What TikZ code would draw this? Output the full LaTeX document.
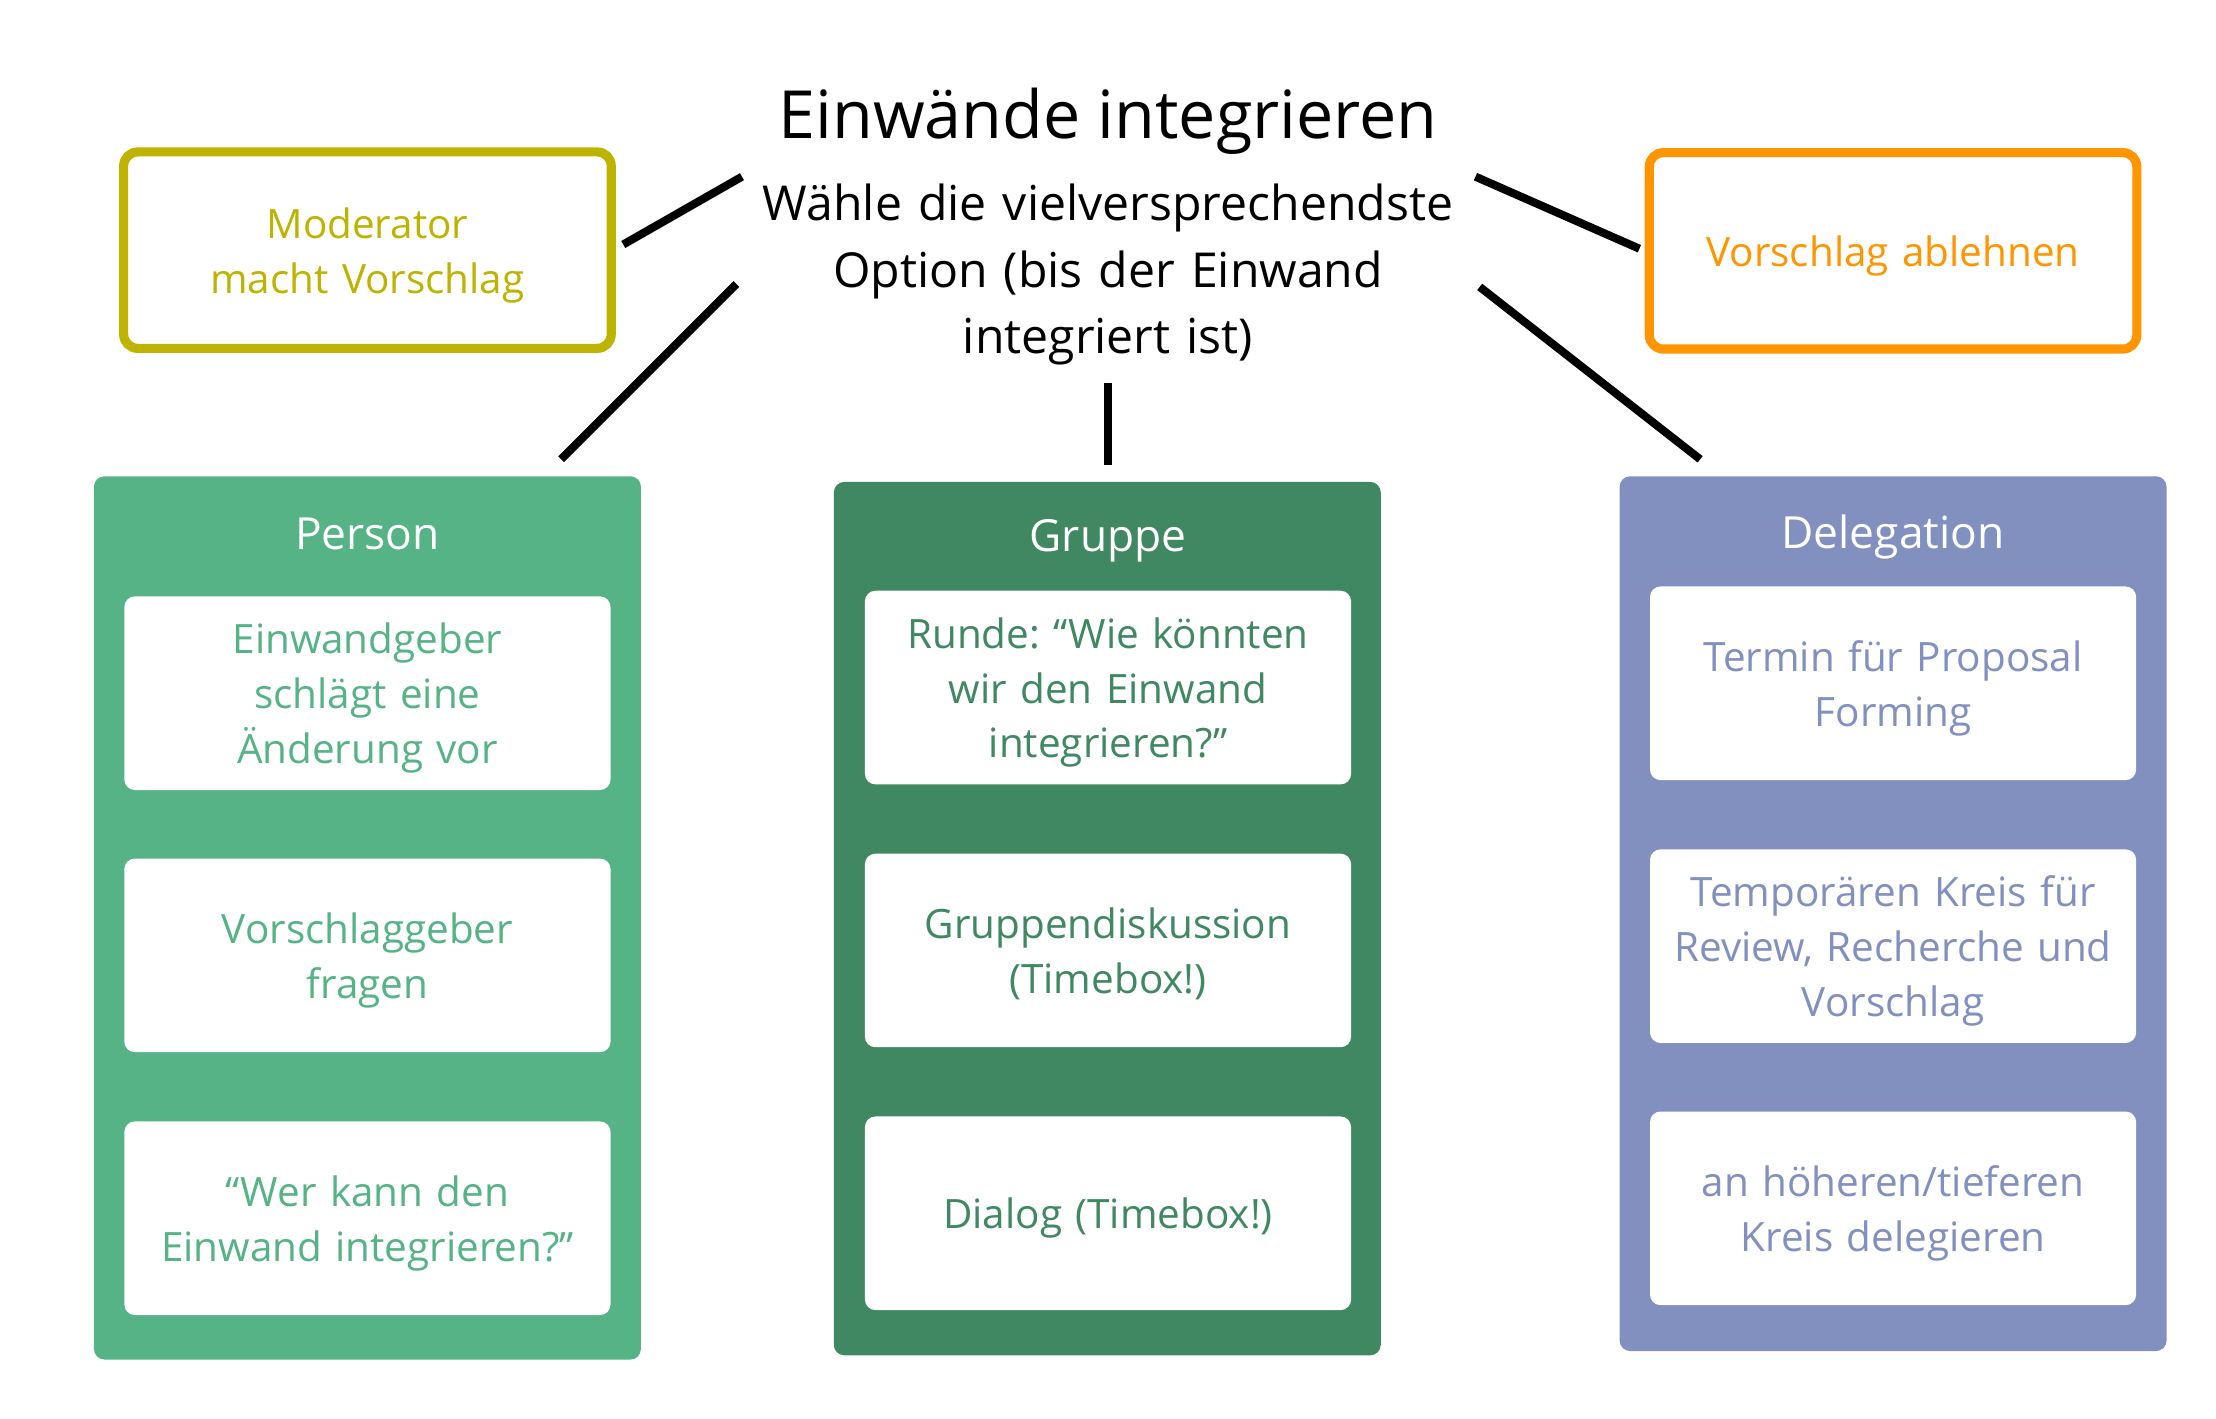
\documentclass[tikz,border=0pt]{standalone}
\usepackage{fontspec}
\setmainfont{Open Sans}
\frenchspacing
\newcommand\pxu{0.014133cm}
\newcommand\linestrut{\rule[-0.29em]{0pt}{1.35em}}
\definecolor{modcol}{HTML}{BDB300}
\definecolor{rejcol}{HTML}{FF9500}
\definecolor{personcol}{HTML}{56B386}
\definecolor{groupcol}{HTML}{3F8862}
\definecolor{delcol}{HTML}{8290C0}
\tikzset{
    boxtext/.style={execute at begin node=\linestrut,
        execute at end node=\linestrut},
    link/.style={line width=2.3pt},
    framebox/.style={boxtext, draw, line width=2.6pt, rounded corners=4pt,
        fill=white, minimum width=345*\pxu, minimum height=139*\pxu,
        inner sep=0pt, text width=320*\pxu, align=center,
        font=\fontsize{11.5}{15.6}\selectfont},
    panel/.style={rounded corners=3pt, minimum width=387*\pxu,
        minimum height=620*\pxu, inner sep=0pt},
    heading/.style={boxtext, text=white, font=\fontsize{12.6}{15}\selectfont},
    item/.style={boxtext, fill=white, rounded corners=3pt,
        minimum width=344*\pxu, minimum height=137*\pxu, inner sep=0pt,
        text width=330*\pxu, align=center,
        font=\fontsize{11.5}{15.6}\selectfont},
}
\begin{document}
\begin{tikzpicture}[x=\pxu, y=-\pxu]
    \useasboundingbox (0,0) rectangle (1568,1004);

    \node [boxtext, inner sep=0pt, font=\fontsize{18.9}{24}\selectfont] (title) at (784,80)%
        {Einwände integrieren};
    \node [boxtext, inner sep=0pt, text width=540*\pxu, align=center,
        font=\fontsize{13.7}{18.8}\selectfont] (sub) at (784,190)%
        {Wähle die vielversprechendste\\Option (bis der Einwand\\integriert ist)};

    \node [framebox, draw=modcol, text=modcol] (mod) at (260,177)%
        {Moderator\\macht Vorschlag};
    \node [framebox, draw=rejcol, text=rejcol] (rej) at (1339.5,177.5)%
        {Vorschlag ablehnen};

    \node [panel, fill=personcol, minimum height=625*\pxu] (person) at (260,649.5) {};
    \node [panel, fill=groupcol, minimum height=618*\pxu] (group) at (783.5,650) {};
    \node [panel, fill=delcol, minimum height=619*\pxu] (deleg) at (1339.5,646.5) {};

    \node [heading] (personhead) at (260,377) {Person};
    \node [heading] (grouphead) at (784,378) {Gruppe};
    \node [heading] (deleghead) at (1339.5,376) {Delegation};

    \node [item, text=personcol] (person1) at (260,490.5)%
        {Einwandgeber\\schlägt eine\\Änderung vor};
    \node [item, text=personcol] (person2) at (260,676)%
        {Vorschlaggeber\\fragen};
    \node [item, text=personcol] (person3) at (260,862)%
        {“Wer kann den\\Einwand integrieren?”};

    \node [item, text=groupcol] (group1) at (784,486.5)%
        {Runde: “Wie könnten\\wir den Einwand\\integrieren?”};
    \node [item, text=groupcol] (group2) at (784,672.5)%
        {Gruppendiskussion\\(Timebox!)};
    \node [item, text=groupcol] (group3) at (784,858.5)%
        {Dialog (Timebox!)};

    \node [item, text=delcol] (deleg1) at (1339.5,483.5)%
        {Termin für Proposal\\Forming};
    \node [item, text=delcol] (deleg2) at (1339.5,669.5)%
        {Temporären Kreis für\\Review, Recherche und\\Vorschlag};
    \node [item, text=delcol] (deleg3) at (1339.5,855)%
        {an höheren/tieferen\\Kreis delegieren};

    \coordinate (modend) at (441,173);
    \coordinate (modstart) at (525,125);
    \coordinate (personend) at (397,325);
    \coordinate (personstart) at (521,201);
    \coordinate (groupend) at (784,329);
    \coordinate (groupstart) at (784,271);
    \coordinate (rejend) at (1160,176);
    \coordinate (rejstart) at (1044,125);
    \coordinate (delegend) at (1203,325);
    \coordinate (delegstart) at (1047,203);

    \draw [link] (modstart) -- (modend);
    \draw [link] (personstart) -- (personend);
    \draw [link] (groupstart) -- (groupend);
    \draw [link] (rejstart) -- (rejend);
    \draw [link] (delegstart) -- (delegend);
\end{tikzpicture}
\end{document}
